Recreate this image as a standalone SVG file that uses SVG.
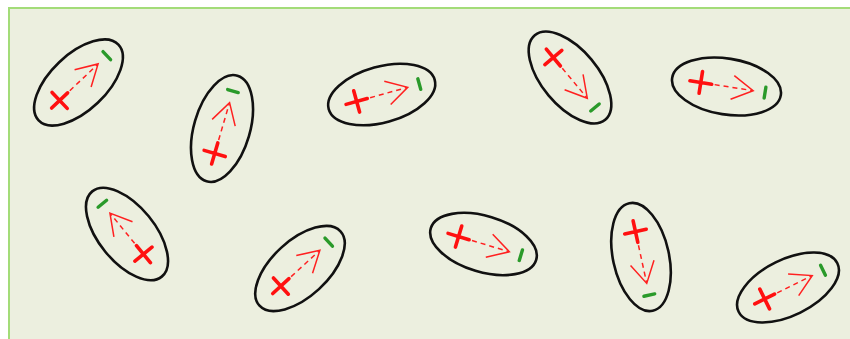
<svg xmlns="http://www.w3.org/2000/svg" xmlns:xlink="http://www.w3.org/1999/xlink" width="850" height="339" viewBox="0 0 850 339">
<style>
.shell{fill:none;stroke:#111;stroke-width:2.6}
.plus{stroke:#ff1010;stroke-width:3.6;stroke-linecap:round;fill:none}
.minus{stroke:#2a9a2a;stroke-width:3.4;stroke-linecap:round}
.shaft{stroke:#ff2020;stroke-width:1.5;stroke-dasharray:5 4;fill:none}
.head{stroke:#ff2020;stroke-width:1.5;fill:none;stroke-linejoin:miter}
</style>
<defs>
<g id="dip">
<ellipse class="shell" cx="0" cy="0" rx="55" ry="28"/>
<path class="plus" d="M-37,0 H-15 M-26,-11 V11"/>
<line class="minus" x1="39" y1="-5.5" x2="39" y2="5.5"/>
<line class="shaft" x1="-12" y1="0" x2="26" y2="0"/>
<polyline class="head" points="6,-12 27,0 6,12"/>
</g>
</defs>
<rect x="9" y="8" width="870" height="360" fill="#ecefdf" stroke="#a3dc78" stroke-width="2"/>
<g id="dipole1" transform="translate(78.5,82.5) rotate(-43.5)"><use xlink:href="#dip"/></g>
<g id="dipole2" transform="translate(222,128.5) rotate(-73.7)"><use xlink:href="#dip"/></g>
<g id="dipole3" transform="translate(381.7,94.5) rotate(-15.5)"><use xlink:href="#dip"/></g>
<g id="dipole4" transform="translate(570,77.5) rotate(50.2)"><use xlink:href="#dip"/></g>
<g id="dipole5" transform="translate(726.5,86.5) rotate(9)"><use xlink:href="#dip"/></g>
<g id="dipole6" transform="translate(127,234) rotate(-129.2)"><use xlink:href="#dip"/></g>
<g id="dipole7" transform="translate(300,268.5) rotate(-42.6)"><use xlink:href="#dip"/></g>
<g id="dipole8" transform="translate(483.5,244) rotate(16.7)"><use xlink:href="#dip"/></g>
<g id="dipole9" transform="translate(641,257) rotate(77.7)"><use xlink:href="#dip"/></g>
<g id="dipole10" transform="translate(788,287.5) rotate(-26.2)"><use xlink:href="#dip"/></g>
<g id="connectors"></g>
</svg>
